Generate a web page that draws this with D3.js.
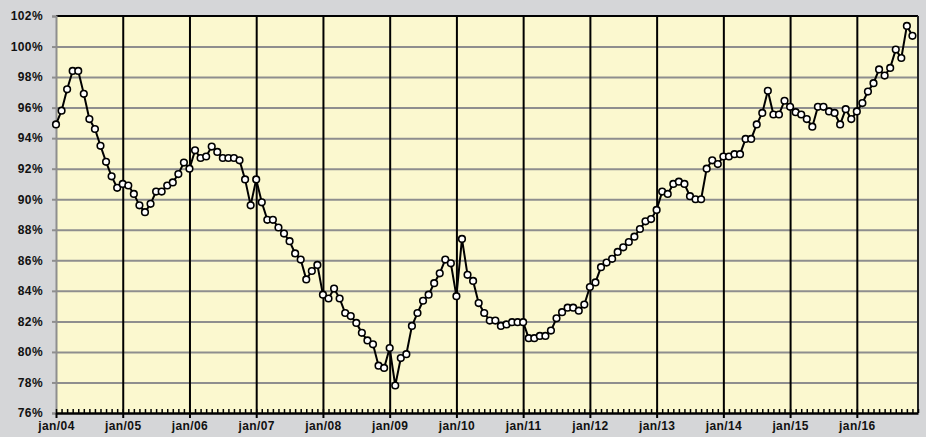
<!DOCTYPE html>
<html>
<head>
<meta charset="utf-8">
<script src="https://cdn.jsdelivr.net/npm/d3@7"></script>
<style>
  body { margin: 0; background: #d5d6d8; }
  svg { display: block; font-family: Arial, "Liberation Sans", sans-serif; }
  .lbl text { font-size: 12px; font-weight: bold; fill: #111; letter-spacing: 0.4px; }
</style>
</head>
<body>
<div id="chart"></div>
<script>
// one value per month, jan/04 .. nov/16
const ratio = [
  94.9, 95.8, 97.2, 98.4, 98.4, 96.9, 95.25, 94.6, 93.5, 92.45, 91.5, 90.75,      // 2004
  91.0, 90.9, 90.35, 89.6, 89.15, 89.7, 90.5, 90.5, 90.9, 91.1, 91.65, 92.4,       // 2005
  92.0, 93.2, 92.7, 92.8, 93.45, 93.1, 92.7, 92.7, 92.7, 92.55, 91.3, 89.6,        // 2006
  91.3, 89.8, 88.65, 88.65, 88.15, 87.75, 87.25, 86.45, 86.05, 84.75, 85.3, 85.7,  // 2007
  83.75, 83.5, 84.15, 83.5, 82.55, 82.35, 81.9, 81.25, 80.75, 80.5, 79.1, 78.95,   // 2008
  80.25, 77.8, 79.6, 79.85, 81.7, 82.55, 83.35, 83.75, 84.5, 85.15, 86.05, 85.8,   // 2009
  83.65, 87.4, 85.05, 84.65, 83.2, 82.55, 82.05, 82.05, 81.7, 81.8, 81.95, 81.95,  // 2010
  81.95, 80.9, 80.9, 81.05, 81.05, 81.4, 82.2, 82.6, 82.9, 82.9, 82.7, 83.1,       // 2011
  84.25, 84.55, 85.55, 85.85, 86.1, 86.55, 86.85, 87.2, 87.55, 88.05, 88.55, 88.7, // 2012
  89.3, 90.5, 90.35, 91.0, 91.15, 91.0, 90.2, 90.0, 90.0, 92.0, 92.55, 92.3,       // 2013
  92.8, 92.8, 92.95, 92.95, 93.95, 93.95, 94.9, 95.65, 97.1, 95.55, 95.55, 96.45,  // 2014
  96.05, 95.7, 95.55, 95.25, 94.75, 96.05, 96.05, 95.75, 95.65, 94.9, 95.9, 95.25, // 2015
  95.75, 96.3, 97.05, 97.6, 98.5, 98.1, 98.6, 99.8, 99.25, 101.35, 100.7           // 2016
];
const yearLabels = ['jan/04', 'jan/05', 'jan/06', 'jan/07', 'jan/08', 'jan/09', 'jan/10',
                    'jan/11', 'jan/12', 'jan/13', 'jan/14', 'jan/15', 'jan/16'];
const yTicks = [76, 78, 80, 82, 84, 86, 88, 90, 92, 94, 96, 98, 100, 102];

const W = 926, H = 437;
const margin = { top: 16, right: 8, bottom: 24, left: 56 };
const width = W - margin.left - margin.right;
const height = H - margin.top - margin.bottom;

const svg = d3.select('#chart').append('svg')
  .attr('width', W)
  .attr('height', H);

svg.append('rect').attr('width', W).attr('height', H).attr('fill', '#d5d6d8');

const g = svg.append('g').attr('transform', `translate(${margin.left},${margin.top})`);

const x = d3.scaleLinear().domain([0, 155]).range([0, width]);
const y = d3.scaleLinear().domain([76, 102]).range([height, 0]);

// plot area
g.append('rect')
  .attr('width', width)
  .attr('height', height)
  .attr('fill', '#fbf8cf');

// horizontal grid
g.append('g')
  .call(d3.axisLeft(y).tickValues(yTicks.slice(1, -1)).tickSize(-width).tickFormat(''))
  .call(s => s.select('.domain').remove())
  .selectAll('line')
  .attr('stroke', '#8e8e8e')
  .attr('stroke-width', 2);

// year lines
const yearIdx = yearLabels.map((d, i) => i * 12);
g.append('g')
  .attr('transform', `translate(0,${height})`)
  .call(d3.axisBottom(x).tickValues(yearIdx.slice(1)).tickSize(-height).tickFormat(''))
  .call(s => s.select('.domain').remove())
  .selectAll('line')
  .attr('stroke', '#000')
  .attr('stroke-width', 2);

// frame: top and right black, left grey
g.append('line').attr('x1', 0).attr('x2', width).attr('y1', 0).attr('y2', 0)
  .attr('stroke', '#000').attr('stroke-width', 2);
g.append('line').attr('x1', width).attr('x2', width).attr('y1', 0).attr('y2', height)
  .attr('stroke', '#222').attr('stroke-width', 2);

// y axis
const yAxis = g.append('g')
  .attr('class', 'lbl')
  .call(d3.axisLeft(y).tickValues(yTicks).tickSize(4).tickPadding(9).tickFormat(d => d + '%'));
yAxis.select('.domain').attr('stroke', '#8e8e8e').attr('stroke-width', 2);
yAxis.selectAll('line').attr('stroke', '#8e8e8e').attr('stroke-width', 2);

// month minor ticks (inside)
g.append('g')
  .attr('transform', `translate(0,${height})`)
  .call(d3.axisBottom(x).tickValues(d3.range(0, 156)).tickSize(-4).tickSizeOuter(0).tickFormat(''))
  .call(s => s.select('.domain').remove())
  .selectAll('line')
  .attr('stroke', '#000')
  .attr('stroke-width', 1.5);

// x axis
const xAxis = g.append('g')
  .attr('class', 'lbl')
  .attr('transform', `translate(0,${height})`)
  .call(d3.axisBottom(x).tickValues(yearIdx).tickSize(5).tickSizeOuter(0).tickPadding(3)
    .tickFormat((d, i) => yearLabels[i]));
xAxis.select('.domain').attr('stroke', '#000').attr('stroke-width', 2.5);
xAxis.selectAll('line').attr('stroke', '#000').attr('stroke-width', 2);

// series
const line = d3.line()
  .x((d, i) => x(i))
  .y(d => y(d));

g.append('path')
  .datum(ratio)
  .attr('fill', 'none')
  .attr('stroke', '#000')
  .attr('stroke-width', 2)
  .attr('d', line);

g.selectAll('.pt')
  .data(ratio)
  .enter().append('circle')
  .attr('class', 'pt')
  .attr('cx', (d, i) => x(i))
  .attr('cy', d => y(d))
  .attr('r', 3.3)
  .attr('fill', '#fff')
  .attr('stroke', '#000')
  .attr('stroke-width', 1.6);
</script>
</body>
</html>
